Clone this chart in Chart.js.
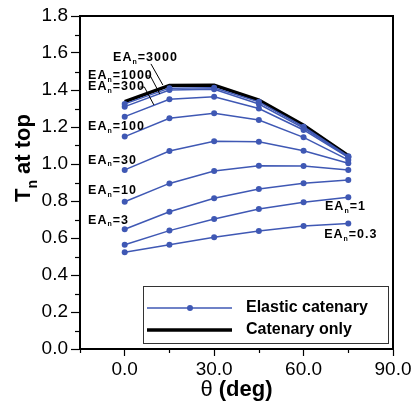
<!DOCTYPE html>
<html>
<head>
<meta charset="utf-8">
<script src="https://cdn.jsdelivr.net/npm/chart.js@4"></script>
<style>body{margin:0;background:#fff}</style>
</head>
<body>
<canvas id="myChart" width="414" height="404"></canvas>
<script>
const thetas = [0, 15, 30, 45, 60, 75];

const ea3000 = [1.325, 1.41, 1.412, 1.336, 1.202, 1.042];
const ea1000 = [1.31, 1.40, 1.404, 1.324, 1.194, 1.039];
const ea300 = [1.256, 1.35, 1.364, 1.30, 1.184, 1.036];
const ea100 = [1.148, 1.247, 1.274, 1.238, 1.144, 1.022];
const ea30 = [0.968, 1.07, 1.123, 1.12, 1.072, 1.004];
const ea10 = [0.796, 0.895, 0.962, 0.991, 0.989, 0.968];
const ea3 = [0.647, 0.742, 0.815, 0.865, 0.896, 0.914];
const ea1 = [0.564, 0.64, 0.703, 0.757, 0.793, 0.82];
const ea03 = [0.523, 0.564, 0.604, 0.638, 0.665, 0.679];
const catenaryOnly = [1.337, 1.425, 1.426, 1.346, 1.21, 1.045];

const eaNames = ["3000", "1000", "300", "100", "30", "10", "3", "1", "0.3"];
const elastic = [ea3000, ea1000, ea300, ea100, ea30, ea10, ea3, ea1, ea03];

const xLabels = [0, 30, 60, 90];   // labelled x ticks
const yMajor = 0.2;                // labelled y step

// where the EA_n notes sit (data units: left edge, middle)
const notes = [
  { name: "3000", x: -3.9, y: 1.573 },
  { name: "1000", x: -12.3, y: 1.476 },
  { name: "300", x: -12.3, y: 1.416 },
  { name: "100", x: -12.3, y: 1.2 },
  { name: "30", x: -12.3, y: 1.018 },
  { name: "10", x: -12.3, y: 0.854 },
  { name: "3", x: -12.3, y: 0.697 },
  { name: "1", x: 67.2, y: 0.768 },
  { name: "0.3", x: 66.9, y: 0.616 },
];
// leader lines for the crowded top three
const leaders = [
  [[8.8, 1.541], [12.8, 1.427]],
  [[7.2, 1.476], [8.6, 1.476], [11.8, 1.378]],
  [[5.2, 1.416], [6.6, 1.416], [9.8, 1.319]],
];

const BLUE = "#3f58b4";
const FONT = "'Liberation Sans', Arial, sans-serif";

const datasets = elastic.map((vals, i) => ({
  label: "EA=" + eaNames[i],
  data: thetas.map((t, j) => ({ x: t, y: vals[j] })),
  borderColor: BLUE,
  backgroundColor: BLUE,
  borderWidth: 1.5,
  pointRadius: 3,
  pointBorderWidth: 0,
  pointBackgroundColor: BLUE,
}));
datasets.push({
  label: "Catenary only",
  data: thetas.map((t, j) => ({ x: t, y: catenaryOnly[j] })),
  borderColor: "#000",
  borderWidth: 3.5,
  pointRadius: 0,
});

function subText(c, x, y, main, sub, rest, size, subSize) {
  c.font = "bold " + size + "px " + FONT;
  c.fillText(main, x, y);
  x += c.measureText(main).width;
  c.font = "bold " + subSize + "px " + FONT;
  c.fillText(sub, x, y + size * 0.3);
  x += c.measureText(sub).width;
  c.font = "bold " + size + "px " + FONT;
  c.fillText(rest, x, y);
}

const extras = {
  id: "extras",
  beforeDraw(chart) {
    const c = chart.ctx;
    c.save();
    c.fillStyle = "#fff";
    c.fillRect(0, 0, chart.width, chart.height);
    c.restore();
  },
  afterDraw(chart) {
    const c = chart.ctx;
    const ca = chart.chartArea;
    const xs = chart.scales.x, ys = chart.scales.y;
    c.save();

    // frame
    c.strokeStyle = "#000";
    c.lineWidth = 2;
    c.strokeRect(ca.left, ca.top, ca.right - ca.left, ca.bottom - ca.top);

    // minor ticks
    c.lineWidth = 1.2;
    ys.ticks.forEach(t => {
      if (Math.round(t.value * 10) % 2 !== 0) {
        const py = Math.round(ys.getPixelForValue(t.value)) + 0.5;
        c.beginPath(); c.moveTo(ca.left - 5, py); c.lineTo(ca.left, py); c.stroke();
      }
    });
    xs.ticks.forEach(t => {
      if (t.value % 30 !== 0) {
        const px = Math.round(xs.getPixelForValue(t.value)) + 0.5;
        c.beginPath(); c.moveTo(px, ca.bottom); c.lineTo(px, ca.bottom + 4); c.stroke();
      }
    });

    // EA_n notes
    c.fillStyle = "#000";
    c.textBaseline = "middle";
    c.letterSpacing = "1px";
    notes.forEach(n => {
      subText(c, xs.getPixelForValue(n.x), ys.getPixelForValue(n.y), "EA", "n", "=" + n.name, 12.5, 7);
    });
    c.letterSpacing = "0px";
    c.lineWidth = 1;
    leaders.forEach(pts => {
      c.beginPath();
      pts.forEach((p, k) => {
        const px = xs.getPixelForValue(p[0]), py = ys.getPixelForValue(p[1]);
        if (k === 0) c.moveTo(px, py); else c.lineTo(px, py);
      });
      c.stroke();
    });

    // legend box
    const bx = ca.left + 63, by = ca.bottom - 63, bw = 245, bh = 57;
    c.fillStyle = "#fff";
    c.fillRect(bx, by, bw, bh);
    c.strokeStyle = "#333";
    c.lineWidth = 1;
    c.strokeRect(bx + 0.5, by + 0.5, bw, bh);
    const l1 = by + 22, l2 = by + 44;
    c.strokeStyle = BLUE; c.lineWidth = 1.5;
    c.beginPath(); c.moveTo(bx + 4, l1); c.lineTo(bx + 89, l1); c.stroke();
    c.fillStyle = BLUE;
    c.beginPath(); c.arc(bx + 47, l1, 3, 0, Math.PI * 2); c.fill();
    c.strokeStyle = "#000"; c.lineWidth = 3.5;
    c.beginPath(); c.moveTo(bx + 4, l2); c.lineTo(bx + 89, l2); c.stroke();
    c.fillStyle = "#000";
    c.font = "bold 16px " + FONT;
    c.fillText("Elastic catenary", bx + 103, l1);
    c.fillText("Catenary only", bx + 103, l2);

    // axis titles
    c.textBaseline = "alphabetic";
    const tx = (ca.left + ca.right) / 2;
    c.font = "22px " + FONT;
    const w1 = c.measureText("\u03b8").width;
    c.font = "bold 22px " + FONT;
    const w2 = c.measureText(" (deg)").width;
    const sx = tx - (w1 + w2) / 2;
    c.font = "22px " + FONT;
    c.fillText("\u03b8", sx, 396);
    c.font = "bold 22px " + FONT;
    c.fillText(" (deg)", sx + w1, 396);

    c.translate(30, 158);
    c.rotate(-Math.PI / 2);
    c.font = "bold 22px " + FONT;
    const a = c.measureText("T").width;
    c.font = "bold 14px " + FONT;
    const b = c.measureText("n").width;
    c.font = "bold 22px " + FONT;
    const d = c.measureText(" at top").width;
    subText(c, -(a + b + d) / 2, 0, "T", "n", " at top", 22, 14);
    c.restore();
  },
};

const newChart = new Chart(document.getElementById("myChart"), {
  type: "line",
  data: { datasets },
  options: {
    responsive: false,
    animation: false,
    layout: { padding: { top: 16, right: 21, left: 0, bottom: 0 } },
    plugins: { legend: { display: false }, tooltip: { enabled: false } },
    scales: {
      x: {
        type: "linear",
        min: -15,
        max: 90,
        afterFit: s => { s.height = 55; },
        border: { color: "#000", width: 2 },
        grid: {
          drawOnChartArea: false,
          tickLength: 7,
          tickWidth: 1.2,
          tickColor: ctx => (ctx.tick && ctx.tick.value % 30 === 0 ? "#000" : "rgba(0,0,0,0)"),
        },
        ticks: {
          stepSize: 15,
          autoSkip: false,
          maxRotation: 0,
          padding: 2,
          color: "#000",
          font: { family: FONT, size: 19 },
          callback: v => (xLabels.includes(v) ? v.toFixed(1) : ""),
        },
      },
      y: {
        min: 0,
        max: 1.8,
        afterFit: s => { s.width = 80; },
        border: { color: "#000", width: 2 },
        grid: {
          drawOnChartArea: false,
          tickLength: 9,
          tickWidth: 1.2,
          tickColor: ctx => (ctx.tick && Math.round(ctx.tick.value * 10) % 2 === 0 ? "#000" : "rgba(0,0,0,0)"),
        },
        ticks: {
          stepSize: 0.1,
          autoSkip: false,
          padding: 3,
          color: "#000",
          font: { family: FONT, size: 19 },
          callback: v => (Math.round(v * 10) % (yMajor * 10) === 0 ? v.toFixed(1) : ""),
        },
      },
    },
  },
  plugins: [extras],
});
</script>
</body>
</html>
